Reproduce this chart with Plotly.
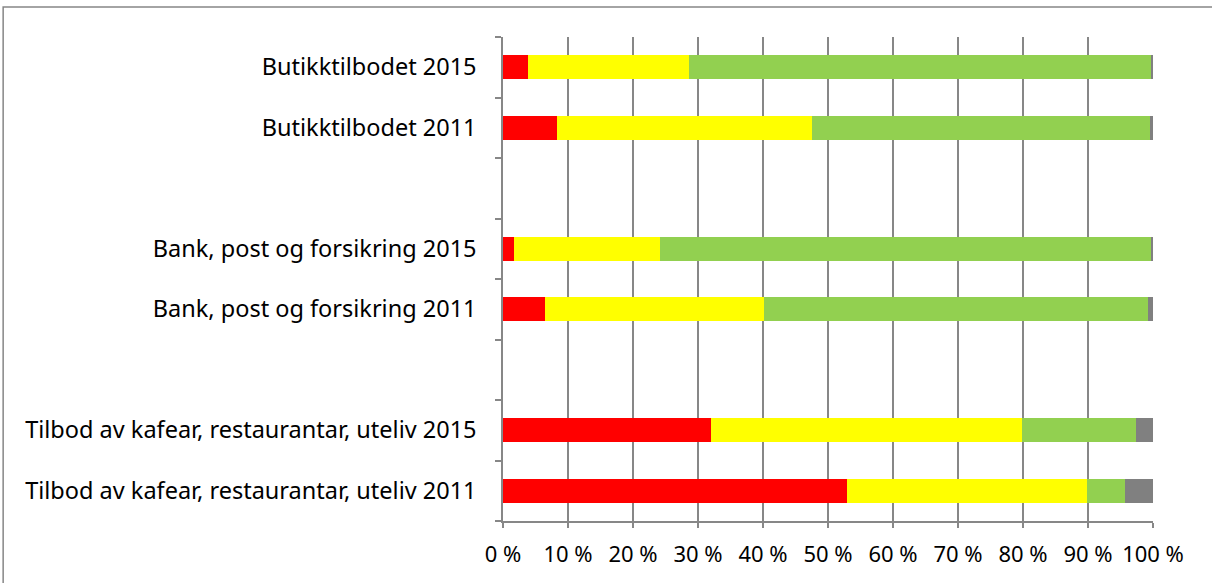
import plotly.graph_objects as go

categories = [
    "Tilbod av kafear, restaurantar, uteliv 2011",
    "Tilbod av kafear, restaurantar, uteliv 2015",
    " ",
    "Bank, post og forsikring 2011",
    "Bank, post og forsikring 2015",
    "  ",
    "Butikktilbodet 2011",
    "Butikktilbodet 2015",
]
red_vals = [52.9, 32.0, None, 6.5, 1.7, None, 8.3, 3.8]
yellow_vals = [37.0, 47.9, None, 33.7, 22.5, None, 39.2, 24.8]
green_vals = [5.8, 17.5, None, 59.0, 75.5, None, 52.1, 71.2]
grey_vals = [4.3, 2.6, None, 0.8, 0.3, None, 0.4, 0.2]
x_ticks = [0, 10, 20, 30, 40, 50, 60, 70, 80, 90, 100]
x_tick_labels = [f"{v} %" for v in x_ticks]

series = [
    ("Rød", red_vals, "#FF0000"),
    ("Gul", yellow_vals, "#FFFF00"),
    ("Grøn", green_vals, "#92D050"),
    ("Grå", grey_vals, "#808080"),
]

fig = go.Figure()
for name, vals, col in series:
    fig.add_trace(go.Bar(
        y=categories, x=vals, name=name, orientation="h",
        marker=dict(color=col, line=dict(width=0)),
        hoverinfo="x+y",
    ))

font_family = "Noto Sans, sans-serif"
fig.update_layout(
    barmode="stack",
    bargap=0.6,
    width=1212, height=583,
    margin=dict(l=503, r=59, t=37, b=62),
    paper_bgcolor="white", plot_bgcolor="white",
    showlegend=False,
    font=dict(family=font_family, size=23, color="black"),
    xaxis=dict(
        range=[0, 100], tickvals=x_ticks, ticktext=x_tick_labels,
        showgrid=True, gridcolor="#878787", gridwidth=1.5,
        showline=True, linecolor="#878787", linewidth=1.5,
        ticks="outside", ticklen=5, tickcolor="#878787", tickwidth=1.5,
        zeroline=False, ticklabelstandoff=8,
        tickfont=dict(family=font_family, size=22),
    ),
    yaxis=dict(
        type="category", categoryorder="array", categoryarray=categories,
        range=[-0.5, 7.5],
        showline=True, linecolor="#878787", linewidth=1.5,
        ticks="outside", ticklen=6, tickcolor="#878787", tickwidth=1.5,
        tickson="boundaries", showgrid=False,
        ticklabelstandoff=20,
        tickfont=dict(family=font_family, size=23.5),
    ),
    shapes=[dict(
        type="rect", xref="paper", yref="paper",
        x0=-0.769, x1=1.3, y0=-0.3, y1=1.062,
        line=dict(color="#878787", width=1.5), fillcolor="rgba(0,0,0,0)",
        layer="below",
    )],
)

fig.write_html(
    "out.html",
    config={"displayModeBar": False},
    post_script="document.body.style.margin='0px';document.body.style.overflow='hidden';",
)
